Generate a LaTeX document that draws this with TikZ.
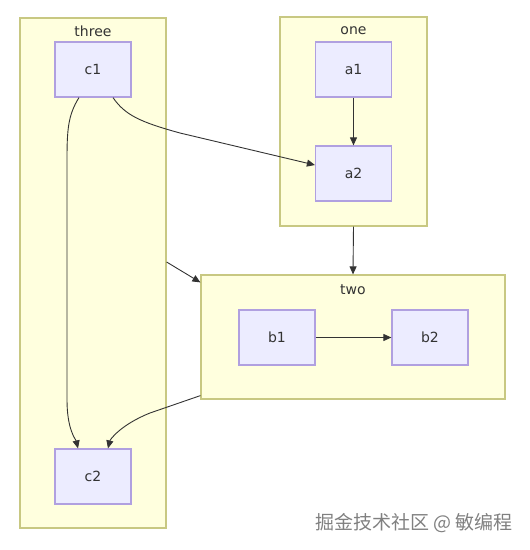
\documentclass[tikz,border=0pt]{standalone}
\usepackage{fontspec}
\setmainfont{DejaVu Sans}
\newfontfamily\cjkfont{Noto Sans CJK SC}
\usetikzlibrary{arrows.meta}
\definecolor{clfill}{HTML}{FFFFDE}
\definecolor{clline}{HTML}{C8C882}
\definecolor{ndfill}{HTML}{ECECFF}
\definecolor{ndline}{HTML}{B0A0E0}
\definecolor{edge}{HTML}{333333}
\definecolor{txt}{HTML}{333333}
\definecolor{wm}{HTML}{808080}
\tikzset{
  cluster/.style={draw=clline, fill=clfill, line width=1.2pt, inner sep=0pt},
  nodebox/.style={draw=ndline, fill=ndfill, line width=1.2pt, inner sep=0pt,
    minimum width=76pt, minimum height=55pt, text=txt, font=\fontsize{14}{16}\selectfont},
  cltitle/.style={text=txt, font=\fontsize{14}{16}\selectfont, inner sep=0pt},
  link/.style={draw=edge, line width=0.9pt, -{Triangle[length=8pt,width=7pt]}},
}
\begin{document}
\begin{tikzpicture}[x=1pt,y=-1pt]
\useasboundingbox (0,0) rectangle (530,550);
% clusters
\node[cluster, minimum width=146pt, minimum height=510pt] (three) at (93,273) {};
\node[cluster, minimum width=147pt, minimum height=209pt] (one) at (353.5,121.5) {};
\node[cluster, minimum width=304pt, minimum height=124pt] (two) at (353,337) {};
\node[cltitle] (threet) at (93,31) {three};
\node[cltitle] (onet) at (353.5,31) {one};
\node[cltitle] (twot) at (353,290) {two};
% nodes
\node[nodebox] (c1) at (93,69.5) {c1};
\node[nodebox] (c2) at (93,476.5) {c2};
\node[nodebox] (a1) at (353.5,69.5) {a1};
\node[nodebox] (a2) at (353.5,173.5) {a2};
\node[nodebox] (b1) at (277,337.5) {b1};
\node[nodebox] (b2) at (430,337.5) {b2};
% edges
\draw[link] (a1) -- (a2);
\draw[link] (b1) -- (b2);
\draw[link] (one.south) -- (two.north);
\draw[link] ([yshift=11pt]three.east) -- ([yshift=-8pt]two.north west);
\draw[link] ([xshift=-14pt]c1.south) .. controls (68,115) and (67,130) .. (67,160)
  -- (67,400) .. controls (67,430) and (76,440) .. ([xshift=-15pt]c2.north);
\draw[link] ([xshift=20pt]c1.south) .. controls (125,115) and (140,122) .. (180,133)
  -- ([yshift=8.5pt]a2.west);
\draw[link] ([yshift=4pt]two.south west) -- (150,413) .. controls (120,425) and (110,440)
  .. ([xshift=15pt]c2.north);
% watermark
\node[anchor=east, inner sep=0pt, text=wm, font=\cjkfont\fontsize{19}{22}\selectfont] (wmark) at (513,523) {掘金技术社区 @ 敏编程};
\end{tikzpicture}
\end{document}
